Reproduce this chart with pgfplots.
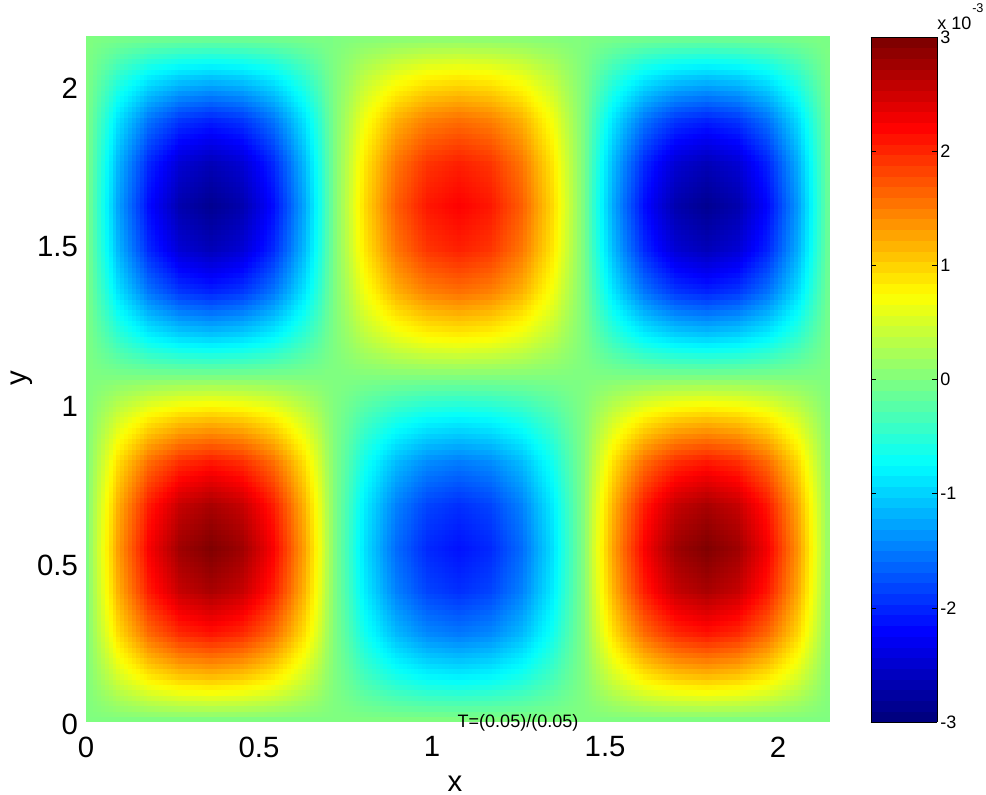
\documentclass[border=0pt]{standalone}
\usepackage{fontspec}
\setmainfont{Liberation Sans}
\usepackage{pgfplots}
\usepgfplotslibrary{patchplots}
\pgfplotsset{compat=1.18}
\newcommand{\bigf}{\fontsize{22}{24}\selectfont}
\newcommand{\smallf}{\fontsize{13.5}{15}\selectfont}
\begin{document}
\begin{tikzpicture}
\path[use as bounding box] (0,0) rectangle (739.5pt,596.25pt);
\begin{axis}[
    at={(64.5pt,54.75pt)}, anchor=south west,
    scale only axis, width=557.25pt, height=513.75pt,
    xmin=0, xmax=2.147, ymin=0, ymax=2.154,
    xtick={0,0.5,1,1.5,2}, ytick={0,0.5,1,1.5,2},
    xticklabels={0,0.5,1,1.5,2}, yticklabels={0,0.5,1,1.5,2},
    axis line style={draw=none}, major tick length=0pt,
    tick label style={font=\bigf},
    x tick label style={yshift=-7.5pt}, y tick label style={xshift=-2.5pt, yshift=-1.5pt},
    xlabel={x}, ylabel={y},
    xlabel style={font=\bigf, inner sep=0pt, at={(axis description cs:0.4966,-0.102)}, anchor=base},
    ylabel style={font=\bigf, inner sep=0pt, at={(axis description cs:-0.0860,0.502)}, anchor=center},
    colormap/jet,
    colormap={jet64}{samples of colormap=(64 of jet)},
    point meta min=-3, point meta max=3,
    colorbar,
    colorbar style={
        at={(1.0565,0)}, anchor=south west,
        width=49.5pt,
        colormap access=piecewise constant,
        ytick={-3,-2,-1,0,1,2,3},
        yticklabels={-3,-2,-1,0,1,2,3},
        tick label style={font=\smallf},
        major tick length=4pt,
        y tick label style={xshift=-1pt},
        axis line style={draw=black},
        tick style={black, line width=0.4pt},
        ytick pos=both, yticklabel pos=right,
        tick align=inside,
    },
]
\addplot[surf, shader=interp, patch type=bilinear, mesh/cols=25, point meta=explicit]
  table[row sep=\\, x expr={mod(\coordindex,25)*0.08946}, y expr={floor((\coordindex+0.5)/25)*0.13463}, meta=v] {
v\\
0\\0\\0\\0\\0\\0\\0\\0\\0\\0\\0\\0\\0\\0\\0\\0\\0\\0\\0\\0\\0\\0\\0\\0\\0\\
0\\0.50\\0.87\\1.07\\1.14\\1.07\\0.87\\0.50\\0\\-0.36\\-0.62\\-0.77\\-0.82\\-0.77\\-0.62\\-0.36\\0\\0.50\\0.87\\1.07\\1.14\\1.07\\0.87\\0.50\\0\\
0\\0.94\\1.62\\2.00\\2.13\\2.00\\1.62\\0.94\\0\\-0.67\\-1.16\\-1.44\\-1.53\\-1.44\\-1.16\\-0.67\\0\\0.94\\1.62\\2.00\\2.13\\2.00\\1.62\\0.94\\0\\
0\\1.21\\2.10\\2.59\\2.76\\2.59\\2.10\\1.21\\0\\-0.87\\-1.50\\-1.86\\-1.98\\-1.86\\-1.50\\-0.87\\0\\1.21\\2.10\\2.59\\2.76\\2.59\\2.10\\1.21\\0\\
0\\1.32\\2.28\\2.82\\3.00\\2.82\\2.28\\1.32\\0\\-0.95\\-1.63\\-2.02\\-2.15\\-2.02\\-1.63\\-0.95\\0\\1.32\\2.28\\2.82\\3.00\\2.82\\2.28\\1.32\\0\\
0\\1.21\\2.10\\2.59\\2.76\\2.59\\2.10\\1.21\\0\\-0.87\\-1.50\\-1.86\\-1.98\\-1.86\\-1.50\\-0.87\\0\\1.21\\2.10\\2.59\\2.76\\2.59\\2.10\\1.21\\0\\
0\\0.94\\1.62\\2.00\\2.13\\2.00\\1.62\\0.94\\0\\-0.67\\-1.16\\-1.44\\-1.53\\-1.44\\-1.16\\-0.67\\0\\0.94\\1.62\\2.00\\2.13\\2.00\\1.62\\0.94\\0\\
0\\0.50\\0.87\\1.07\\1.14\\1.07\\0.87\\0.50\\0\\-0.36\\-0.62\\-0.77\\-0.82\\-0.77\\-0.62\\-0.36\\0\\0.50\\0.87\\1.07\\1.14\\1.07\\0.87\\0.50\\0\\
0\\0\\0\\0\\0\\0\\0\\0\\0\\0\\0\\0\\0\\0\\0\\0\\0\\0\\0\\0\\0\\0\\0\\0\\0\\
0\\-0.48\\-0.84\\-1.03\\-1.10\\-1.03\\-0.84\\-0.48\\0\\0.38\\0.65\\0.81\\0.86\\0.81\\0.65\\0.38\\0\\-0.48\\-0.84\\-1.03\\-1.10\\-1.03\\-0.84\\-0.48\\0\\
0\\-0.91\\-1.57\\-1.94\\-2.06\\-1.94\\-1.57\\-0.91\\0\\0.70\\1.22\\1.50\\1.60\\1.50\\1.22\\0.70\\0\\-0.91\\-1.57\\-1.94\\-2.06\\-1.94\\-1.57\\-0.91\\0\\
0\\-1.17\\-2.03\\-2.51\\-2.67\\-2.51\\-2.03\\-1.17\\0\\0.91\\1.57\\1.95\\2.07\\1.95\\1.57\\0.91\\0\\-1.17\\-2.03\\-2.51\\-2.67\\-2.51\\-2.03\\-1.17\\0\\
0\\-1.28\\-2.20\\-2.73\\-2.90\\-2.73\\-2.20\\-1.28\\0\\0.99\\1.71\\2.12\\2.25\\2.12\\1.71\\0.99\\0\\-1.28\\-2.20\\-2.73\\-2.90\\-2.73\\-2.20\\-1.28\\0\\
0\\-1.17\\-2.03\\-2.51\\-2.67\\-2.51\\-2.03\\-1.17\\0\\0.91\\1.57\\1.95\\2.07\\1.95\\1.57\\0.91\\0\\-1.17\\-2.03\\-2.51\\-2.67\\-2.51\\-2.03\\-1.17\\0\\
0\\-0.91\\-1.57\\-1.94\\-2.06\\-1.94\\-1.57\\-0.91\\0\\0.70\\1.22\\1.50\\1.60\\1.50\\1.22\\0.70\\0\\-0.91\\-1.57\\-1.94\\-2.06\\-1.94\\-1.57\\-0.91\\0\\
0\\-0.48\\-0.84\\-1.03\\-1.10\\-1.03\\-0.84\\-0.48\\0\\0.38\\0.65\\0.81\\0.86\\0.81\\0.65\\0.38\\0\\-0.48\\-0.84\\-1.03\\-1.10\\-1.03\\-0.84\\-0.48\\0\\
0\\0\\0\\0\\0\\0\\0\\0\\0\\0\\0\\0\\0\\0\\0\\0\\0\\0\\0\\0\\0\\0\\0\\0\\0\\
};
\end{axis}
\node[font=\smallf, anchor=center, inner sep=0pt] at (388.5pt,54pt) {T=(0.05)/(0.05)};
\node[font=\smallf, anchor=base west, inner sep=0pt] at (702.75pt,573.75pt) {x 10};
\node[font=\fontsize{9.5}{11}\selectfont, anchor=base west, inner sep=0pt] at (729pt,586.9pt) {-3};
\end{tikzpicture}
\end{document}
